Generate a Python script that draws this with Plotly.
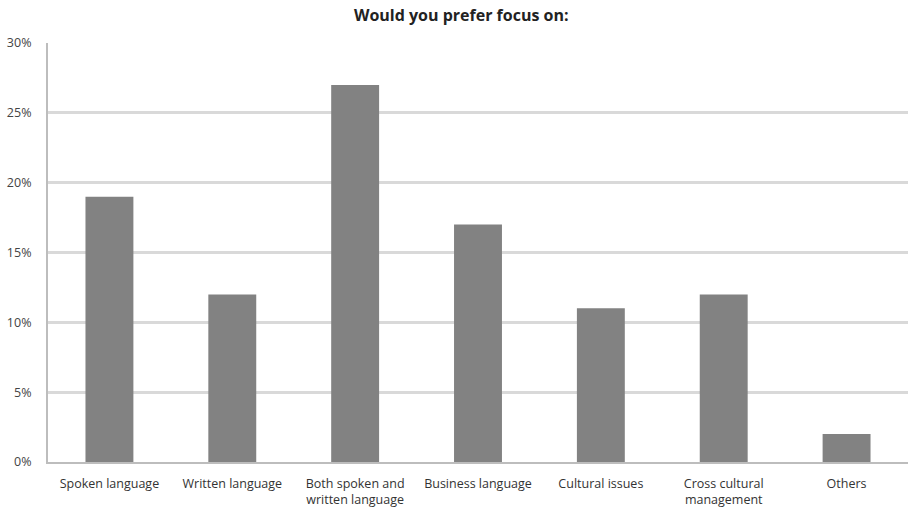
import plotly.graph_objects as go

categories = [
    "Spoken language",
    "Written language",
    "Both spoken and<br>written language",
    "Business language",
    "Cultural issues",
    "Cross cultural<br>management",
    "Others",
]
shares = [0.19, 0.12, 0.27, 0.17, 0.11, 0.12, 0.02]
y_ticks = [0, 0.05, 0.10, 0.15, 0.20, 0.25, 0.30]
y_tick_labels = ["0%", "5%", "10%", "15%", "20%", "25%", "30%"]

font_family = "Liberation Sans Narrow, Open Sans, Liberation Sans, sans-serif"

fig = go.Figure(
    go.Bar(
        x=categories,
        y=shares,
        marker=dict(color="#828282", line=dict(width=0)),
        width=0.39,
        hoverinfo="skip",
    )
)

fig.update_layout(
    width=908,
    height=509,
    margin=dict(l=48, r=0, t=43, b=47),
    paper_bgcolor="white",
    plot_bgcolor="white",
    showlegend=False,
    title=dict(
        text="<b>Would you prefer focus on:</b>",
        x=0.508,
        xanchor="center",
        y=0.97,
        yanchor="middle",
        font=dict(family=font_family, size=16, color="#222222"),
    ),
    font=dict(family=font_family, size=12, color="#333333"),
)

fig.update_xaxes(
    showline=True,
    linecolor="#bdbdbd",
    linewidth=2,
    showgrid=False,
    ticks="",
    ticklabelstandoff=9,
    tickfont=dict(size=12.5, color="#333333"),
)

fig.update_yaxes(
    range=[0, 0.30],
    tickvals=y_ticks,
    ticktext=y_tick_labels,
    showgrid=True,
    gridcolor="#d9d9d9",
    gridwidth=2.5,
    showline=True,
    linecolor="#bdbdbd",
    linewidth=2,
    zeroline=False,
    ticks="",
    ticklabelstandoff=12,
    tickfont=dict(size=12.5, color="#444444"),
)

fig.write_html("out.html")
